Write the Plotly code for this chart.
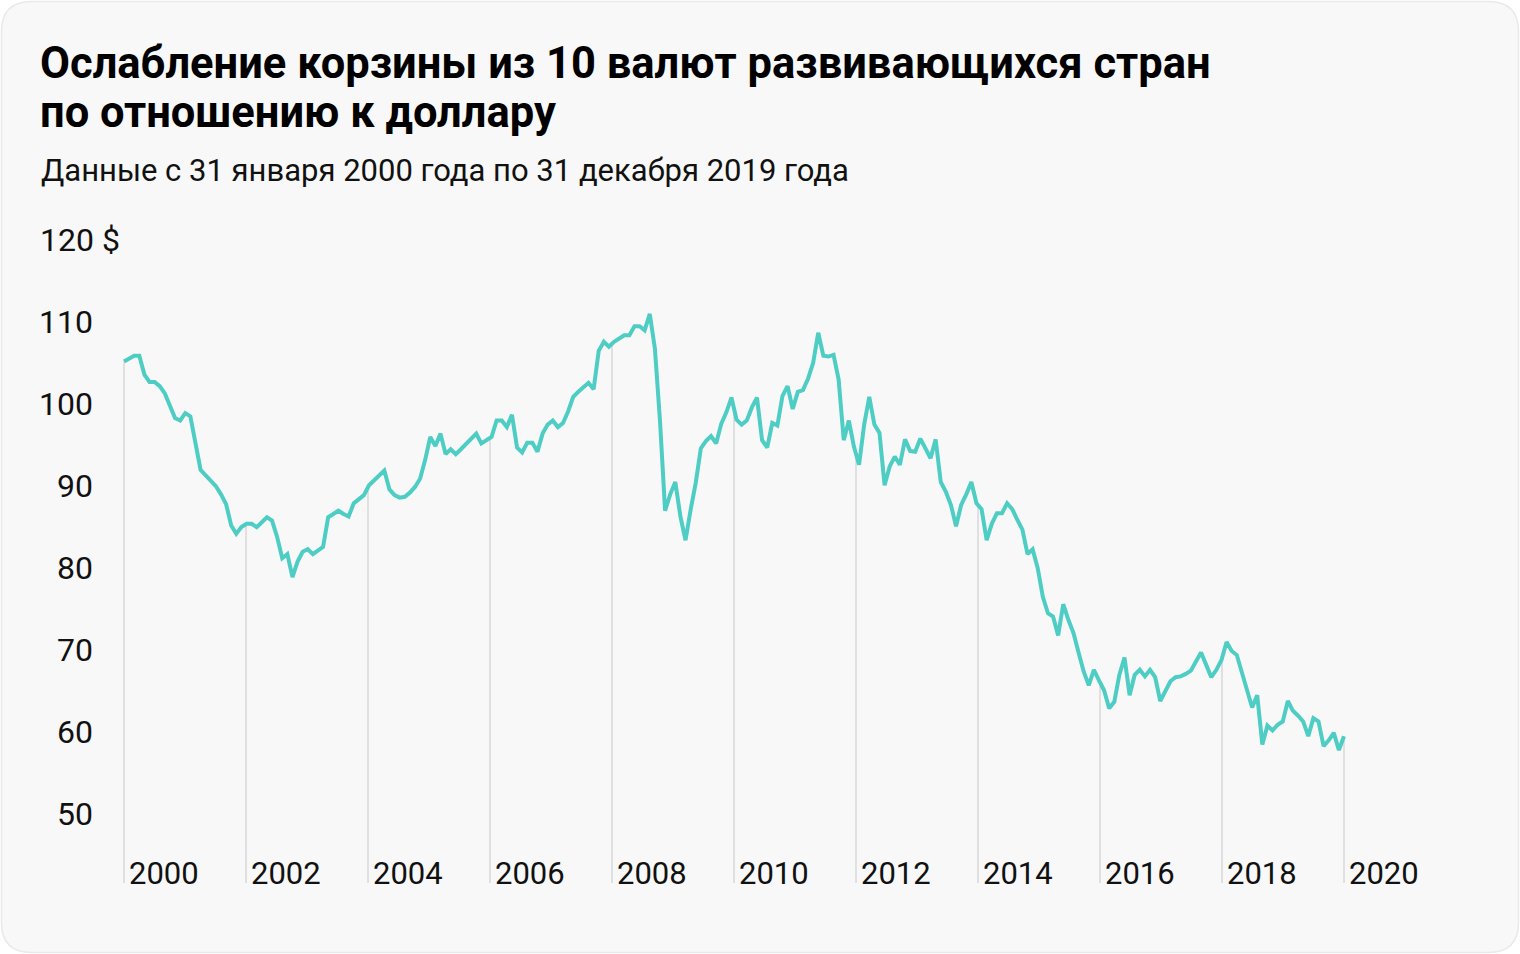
import plotly.graph_objects as go

# ---- data (monthly, Jan 2000 .. Dec 2019) ----
values = [
    105.2, 105.6, 105.9, 105.9, 103.6, 102.7, 102.7, 102.2, 101.3, 99.8, 98.3, 98.0,   # 2000
    98.9, 98.5, 95.0, 92.0, 91.3, 90.7, 90.0, 89.0, 87.8, 85.2, 84.2, 85.0,            # 2001
    85.4, 85.4, 85.0, 85.6, 86.2, 85.8, 83.8, 81.2, 81.7, 78.9, 80.8, 82.0,            # 2002
    82.3, 81.7, 82.1, 82.6, 86.2, 86.6, 87.0, 86.6, 86.3, 87.9, 88.4, 88.9,            # 2003
    90.1, 90.7, 91.3, 91.9, 89.6, 88.9, 88.6, 88.7, 89.2, 89.9, 90.9, 93.2,            # 2004
    96.0, 94.9, 96.4, 93.9, 94.5, 93.9, 94.5, 95.1, 95.8, 96.4, 95.2, 95.6,            # 2005
    96.0, 98.0, 98.0, 97.2, 98.7, 94.7, 94.1, 95.3, 95.3, 94.2, 96.4, 97.5,            # 2006
    98.0, 97.2, 97.7, 99.1, 100.9, 101.5, 102.1, 102.6, 101.8, 106.5, 107.6, 107.0,    # 2007
    107.6, 108.0, 108.4, 108.4, 109.5, 109.5, 109.0, 111.0, 106.8, 98.0, 87.0, 89.0,   # 2008
    90.5, 86.3, 83.4, 87.1, 90.4, 94.6, 95.5, 96.1, 95.2, 97.6, 99.0, 100.8,           # 2009
    98.1, 97.5, 98.0, 99.6, 100.8, 95.6, 94.7, 97.7, 97.4, 101.0, 102.2, 99.4,         # 2010
    101.5, 101.7, 103.1, 105.0, 108.7, 105.9, 105.8, 106.0, 103.0, 95.6, 98.0, 94.8,   # 2011
    92.6, 97.5, 100.9, 97.5, 96.5, 90.1, 92.4, 93.6, 92.6, 95.7, 94.3, 94.2,           # 2012
    95.8, 94.6, 93.4, 95.7, 90.5, 89.3, 87.7, 85.1, 87.7, 89.0, 90.5, 87.9,            # 2013
    87.2, 83.4, 85.4, 86.7, 86.7, 87.9, 87.2, 85.9, 84.7, 81.7, 82.3, 80.0,            # 2014
    76.5, 74.5, 74.1, 71.8, 75.6, 73.7, 72.1, 69.7, 67.4, 65.7, 67.6, 66.3,            # 2015
    65.1, 62.9, 63.7, 67.0, 69.1, 64.5, 67.0, 67.6, 66.8, 67.6, 66.7, 63.8,            # 2016
    64.9, 66.2, 66.7, 66.8, 67.1, 67.5, 68.6, 69.7, 68.2, 66.7, 67.6, 68.8,            # 2017
    71.0, 69.9, 69.4, 67.4, 65.0, 63.0, 64.5, 58.5, 60.8, 60.2, 60.9, 61.3,            # 2018
    63.8, 62.6, 62.0, 61.3, 59.5, 61.7, 61.3, 58.3, 59.0, 59.9, 57.8, 59.5,            # 2019
]
tick_years = [2000, 2002, 2004, 2006, 2008, 2010, 2012, 2014, 2016, 2018, 2020]
y_ticks = [50, 60, 70, 80, 90, 100, 110, 120]
title_lines = ["Ослабление корзины из 10 валют развивающихся стран",
               "по отношению к доллару"]
subtitle = "Данные с 31 января 2000 года по 31 декабря 2019 года"

n = len(values)
xs = [2000 + i * 20 / (n - 1) for i in range(n)]

FONT = "Roboto"
LINE_COLOR = "#4ecdc4"
TEXT_COLOR = "#111111"
W, H = 1520, 954
X0, X1 = 1999.0, 2021.0
Y0, Y1 = 41.6, 121.6
ML, MR, MT, MB = 63, 115, 227, 71
PW, PH = W - ML - MR, H - MT - MB


def px2paper_x(px):
    return (px - ML) / PW


def py2paper_y(py):
    return (H - MB - py) / PH


def value_at(year):
    pos = (year - 2000) * (n - 1) / 20
    i = int(pos)
    if i >= n - 1:
        return values[-1]
    f = pos - i
    return values[i] * (1 - f) + values[i + 1] * f


fig = go.Figure()
fig.add_trace(go.Scatter(
    x=xs, y=values, mode="lines",
    line=dict(color=LINE_COLOR, width=4),
    hoverinfo="skip", showlegend=False,
))

shapes = []
# card with rounded corners
l, r, t, b = 1.5, W - 1.5, 1.5, H - 1.5
rad = 30
xa, xb = px2paper_x(l), px2paper_x(r)
ya, yb = py2paper_y(t), py2paper_y(b)
rx, ry = rad / PW, rad / PH
path = (
    f"M {xa+rx},{ya} L {xb-rx},{ya} Q {xb},{ya} {xb},{ya-ry} "
    f"L {xb},{yb+ry} Q {xb},{yb} {xb-rx},{yb} "
    f"L {xa+rx},{yb} Q {xa},{yb} {xa},{yb+ry} "
    f"L {xa},{ya-ry} Q {xa},{ya} {xa+rx},{ya} Z"
)
shapes.append(dict(type="path", xref="paper", yref="paper", path=path,
                   fillcolor="#f8f8f8", line=dict(color="#e9e9e9", width=1.5),
                   layer="below"))
# drop lines at tick years
for yr in tick_years:
    shapes.append(dict(type="line", xref="x", yref="y", x0=yr, x1=yr,
                       y0=Y0, y1=value_at(yr),
                       line=dict(color="#e0e0e0", width=2), layer="below"))

annotations = []
for k, line in enumerate(title_lines):
    annotations.append(dict(
        text=f"<b>{line}</b>", xref="paper", yref="paper",
        x=px2paper_x(38), y=py2paper_y(63 + 50 * k), xanchor="left", yanchor="middle",
        align="left", showarrow=False,
        font=dict(family=FONT, size=43.5, color="#000000"),
    ))
annotations.append(dict(
    text=subtitle, xref="paper", yref="paper",
    x=px2paper_x(39), y=py2paper_y(170), xanchor="left", yanchor="middle",
    align="left", showarrow=False,
    font=dict(family=FONT, size=31, color=TEXT_COLOR),
))
for v in y_ticks:
    if v == y_ticks[-1]:
        annotations.append(dict(text=f"{v} $", xref="x", yref="y", x=2000, y=v,
                                xanchor="left", xshift=-86, yanchor="middle",
                                showarrow=False,
                                font=dict(family=FONT, size=32, color=TEXT_COLOR)))
    else:
        annotations.append(dict(text=str(v), xref="x", yref="y", x=2000, y=v,
                                xanchor="right", xshift=-29, yanchor="middle",
                                showarrow=False,
                                font=dict(family=FONT, size=32, color=TEXT_COLOR)))
for yr in tick_years:
    annotations.append(dict(text=str(yr), xref="x", yref="y", x=yr, y=Y0,
                            xanchor="left", xshift=3, yanchor="bottom", yshift=-11,
                            showarrow=False,
                            font=dict(family=FONT, size=31, color=TEXT_COLOR)))

fig.update_layout(
    width=W, height=H,
    margin=dict(l=ML, r=MR, t=MT, b=MB, pad=0),
    paper_bgcolor="#ffffff", plot_bgcolor="rgba(0,0,0,0)",
    xaxis=dict(range=[X0, X1], visible=False, fixedrange=True),
    yaxis=dict(range=[Y0, Y1], visible=False, fixedrange=True),
    shapes=shapes, annotations=annotations,
    showlegend=False,
)
fig.write_html(
    "out.html",
    config={"displayModeBar": False},
    post_script="document.body.style.margin='0';document.body.style.padding='0';"
                "document.body.style.overflow='hidden';",
)
